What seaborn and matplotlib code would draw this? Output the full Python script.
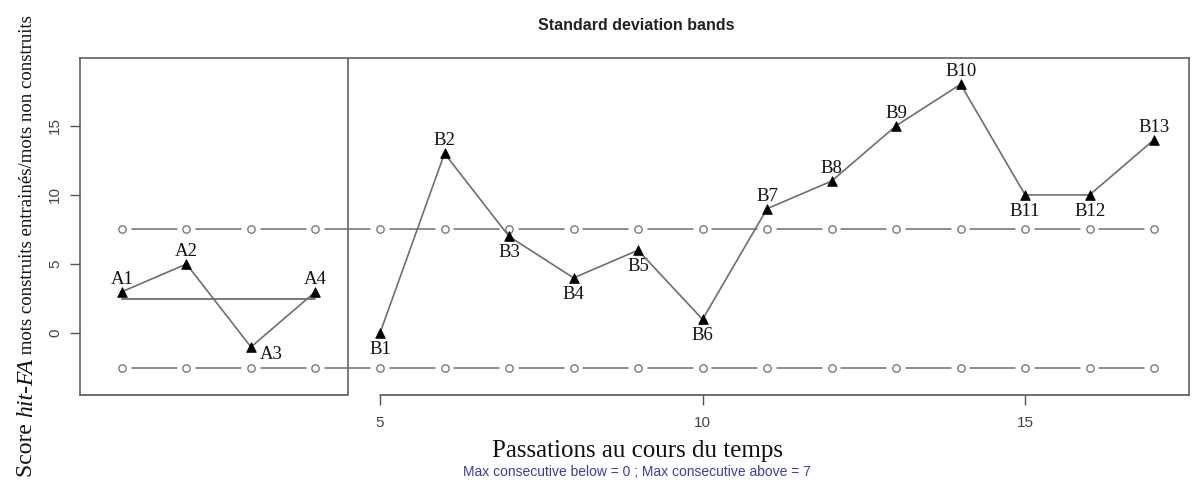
import matplotlib
matplotlib.use("Agg")
import matplotlib.pyplot as plt
import seaborn as sns
import numpy as np
import pandas as pd

# ---- data ----
a_labels = ["A1", "A2", "A3", "A4"]
a_x = [1, 2, 3, 4]
a_y = [3, 5, -1, 3]
b_labels = ["B1", "B2", "B3", "B4", "B5", "B6", "B7", "B8", "B9", "B10", "B11", "B12", "B13"]
b_x = [5, 6, 7, 8, 9, 10, 11, 12, 13, 14, 15, 16, 17]
b_y = [0, 13, 7, 4, 6, 1, 9, 11, 15, 18, 10, 10, 14]
label_pos = ["above", "above", "right", "above",
             "below", "above", "below", "below", "below", "below", "above",
             "above", "above", "above", "below", "below", "above"]
band_x = list(range(1, 18))
upper_band = 7.53
lower_band = -2.53
a_mean = 2.5
x_ticks = [5, 10, 15]
y_ticks = [0, 5, 10, 15]

title = "Standard deviation bands"
xlabel = "Passations au cours du temps"
subtitle = "Max consecutive below = 0 ; Max consecutive above = 7"

sns.set_theme(style="white")
plt.rcParams["font.family"] = ["Liberation Serif", "DejaVu Serif"]

W, H, DPI = 1192, 483, 100
fig = plt.figure(figsize=(W / DPI, H / DPI), dpi=DPI)
ax = fig.add_axes([80 / W, 1 - 395 / H, (1189 - 80) / W, (395 - 58) / H])

line_col = "#6e6e6e"
box_col = "#555555"

df_a = pd.DataFrame({"x": a_x, "y": a_y, "lab": a_labels})
df_b = pd.DataFrame({"x": b_x, "y": b_y, "lab": b_labels})

# band lines (R type "b": circles with gaps)
gap = 0.15
for yv in (upper_band, lower_band):
    for x0, x1 in zip(band_x[:-1], band_x[1:]):
        ax.plot([x0 + gap, x1 - gap], [yv, yv], color=line_col, lw=1.1, zorder=2)
    sns.scatterplot(x=band_x, y=[yv] * len(band_x), ax=ax, marker="o", s=28,
                    facecolor="white", edgecolor="#7a7a7a", linewidth=1.0, zorder=3)

# phase A mean
ax.plot([a_x[0], a_x[-1]], [a_mean, a_mean], color=line_col, lw=1.3, zorder=2)

# data lines
for d in (df_a, df_b):
    sns.lineplot(data=d, x="x", y="y", ax=ax, color=line_col, lw=1.2, zorder=4,
                 sort=False, estimator=None)
    sns.scatterplot(data=d, x="x", y="y", ax=ax, marker="^", s=48, color="black",
                    edgecolor="black", linewidth=0.6, zorder=5)

# point labels
all_x = a_x + b_x
all_y = a_y + b_y
all_lab = a_labels + b_labels
for xv, yv, lab, pos in zip(all_x, all_y, all_lab, label_pos):
    if pos == "above":
        ax.annotate(lab, (xv, yv), xytext=(0, 8), textcoords="offset pixels",
                    ha="center", va="baseline", fontsize=13.5, color="#111111")
    elif pos == "below":
        ax.annotate(lab, (xv, yv), xytext=(0, -8), textcoords="offset pixels",
                    ha="center", va="top", fontsize=13.5, color="#111111")
    else:
        ax.annotate(lab, (xv, yv), xytext=(9, -7), textcoords="offset pixels",
                    ha="left", va="center", fontsize=13.5, color="#111111")

# phase separator
ax.axvline(4.5, color=box_col, lw=1.1, zorder=1)

ax.set_xlim(0.35, 17.54)
ax.set_ylim(-4.47, 19.9)
ax.set_xlabel("")
ax.set_ylabel("")

for s in ("top", "left", "right"):
    ax.spines[s].set_color(box_col)
    ax.spines[s].set_linewidth(1.1)
ax.spines["bottom"].set_visible(False)
ylo = ax.get_ylim()[0]
ax.plot([0.35, 4.5], [ylo, ylo], color=box_col, lw=1.2, clip_on=False, zorder=6)
ax.plot([5, 17.54], [ylo, ylo], color=box_col, lw=1.2, clip_on=False, zorder=6)

ax.set_xticks(x_ticks)
ax.set_yticks(y_ticks)
ax.tick_params(axis="x", which="both", direction="out", length=7, width=1,
               color=box_col, labelcolor="#444444", labelsize=11, pad=8, bottom=True)
ax.tick_params(axis="y", which="both", direction="out", length=7, width=1,
               color=box_col, labelcolor="#444444", labelsize=11, pad=6, left=True)
for t in ax.get_xticklabels() + ax.get_yticklabels():
    t.set_fontfamily(["Liberation Sans", "DejaVu Sans"])
for t in ax.get_yticklabels():
    t.set_rotation(90)
    t.set_va("center")

# titles
fig.text(636 / W, 1 - 25 / H, title, ha="center", va="center", fontsize=11.5,
         fontweight="bold", family=["Liberation Sans", "DejaVu Sans"], color="#222222")
fig.text(637 / W, 1 - 457 / H, xlabel, ha="center", va="baseline", fontsize=18,
         color="#111111")
fig.text(637 / W, 1 - 472 / H, subtitle, ha="center", va="center", fontsize=10,
         family=["Liberation Sans", "DejaVu Sans"], color="#3c3ca8")

# composite y label
renderer = fig.canvas.get_renderer()
pieces = [("Score ", 17, "normal"), ("hit-FA", 17, "italic"),
          (" mots construits entrainés/mots non construits", 13.5, "normal")]
xb = 32 / W
texts = []
total = 0
for txt, fs, st in pieces:
    t = fig.text(xb, 0, txt, rotation=90, rotation_mode="anchor", ha="left",
                 va="baseline", fontsize=fs, fontstyle=st, color="#111111")
    bb = t.get_window_extent(renderer)
    texts.append((t, bb.height))
    total += bb.height
y0 = (H - 246) - total / 2
for t, h in texts:
    t.set_position((xb, y0 / H))
    y0 += h

fig.savefig("out.png", dpi=DPI)
